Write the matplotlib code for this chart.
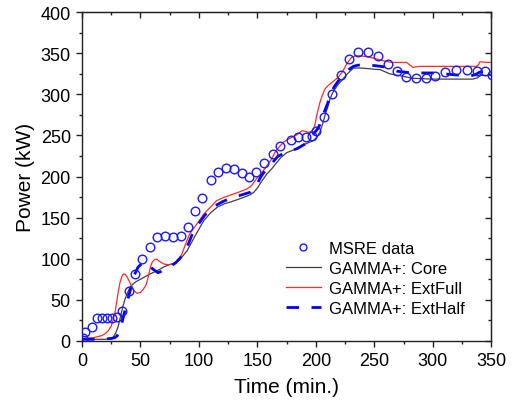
import matplotlib
matplotlib.use('Agg')
import matplotlib.pyplot as plt
from matplotlib.ticker import MultipleLocator

plt.rcParams['font.family'] = ['Liberation Sans', 'DejaVu Sans']

# MSRE measured power (min, kW)
msre_t = [0.5, 3, 8.3, 12.5, 17, 21.5, 26, 30, 34, 40, 45.5, 51.5, 58, 64.5, 71, 78, 85, 90.5,
          97, 102.5, 110.5, 116.5, 123.5, 130, 137, 143, 149, 156, 163.5, 169.2, 178.4, 185,
          191.7, 196.8, 200, 206.7, 213.6, 221.6, 228.5, 236.2, 244.2, 253, 261.3, 268.9, 277,
          285.5, 294, 302, 310.3, 319.7, 328.8, 337.6, 344.4, 350.5]
msre_p = [4, 11, 17, 28, 28, 28, 28, 29, 37, 61, 81, 100, 114, 127, 128, 127, 128, 139,
          158.5, 174, 195.7, 205.8, 210.7, 209, 204, 200, 206, 216.4, 228, 237, 244.7, 247.6,
          247.6, 249.6, 255.7, 272, 301, 323.8, 342.5, 351, 351, 347, 336.8, 328.3, 321.4,
          319.4, 319.4, 321.8, 327.4, 329.8, 329.8, 328.6, 328.6, 323]

# GAMMA+ Core
core_t = [0, 10, 20, 25, 27, 29, 31, 33, 35, 36.8, 38.5, 40, 42, 46, 50, 55, 59, 65, 70, 75,
          80, 83, 86, 90, 93, 96, 100, 104, 110, 116, 122, 127, 133, 139, 144, 147, 150, 153,
          158, 162, 166, 170, 175, 182, 190, 195, 198, 201, 203.4, 205.5, 207.7, 210, 212, 214,
          216, 219, 223, 227, 232, 238, 243, 250, 255, 259, 263, 268, 272, 283, 300, 320, 334,
          338, 341, 346, 351]
core_p = [2, 2, 2, 3, 5, 10, 18, 30, 42, 51, 57, 62, 67, 72, 75, 79, 82, 86, 90, 93,
          95, 98, 103, 110, 118, 126, 136, 146, 156, 163, 167, 169, 172, 175, 178, 181, 186, 193,
          203, 209, 216, 223, 229, 233, 239, 242, 244, 248, 254, 263, 274, 284, 294, 301,
          306, 312, 318.5, 325, 332, 332, 331.5, 330.5, 330, 327.5, 325, 323.5, 322.6, 319.5, 318.5, 318.5, 318.5,
          320, 323, 323, 323]

# GAMMA+ ExtFull
full_t = [0, 10, 17, 20, 22.5, 25, 27, 28.5, 29.6, 31, 32.5, 34, 35.5, 37, 38.5, 41, 44, 47,
          50, 52.5, 55, 57, 58.5, 60, 62, 64, 66, 70, 74, 78, 81, 84, 86, 88, 92, 98, 104,
          110, 115, 121, 127, 134, 141, 145, 149, 153, 158, 162, 165, 168, 172, 176, 179, 184,
          188, 191, 193.4, 196, 198, 199.5, 200.6, 202, 203.4, 205.5, 207.7, 210, 212, 215,
          219, 223, 226.2, 230.5, 234, 237.6, 242, 246, 252, 257.5, 264.7, 270, 277.5, 280,
          283, 286, 289, 300, 320, 337, 339, 340.2, 345, 351]
full_p = [3, 4, 6.5, 9, 12.5, 18, 27, 37, 47, 60, 71, 78, 81.5, 81, 78, 71, 62, 58,
          59, 63, 69, 80, 90, 95.7, 99, 99.5, 97, 93.6, 92.5, 93.6, 96, 101.7, 108, 116, 130, 142, 154,
          163, 170.6, 174.5, 177.5, 181, 184.8, 189, 197, 203, 213, 221, 229.4, 235, 241.6, 245, 247.6, 251,
          255.7, 255, 253.7, 255, 257.8, 265, 274, 282, 290, 299, 306.4, 310, 312.5, 316,
          320.6, 328, 336.8, 345, 347, 346.9, 346, 345, 343, 340.8, 338.8, 338.8, 338.8, 336,
          332.7, 333.5, 334, 334, 334, 334, 336, 339.6, 339, 338.8]

# GAMMA+ ExtHalf
half_t = [0, 10, 20, 25, 28, 30, 33, 36, 38.5, 41, 44, 48, 52, 56, 60, 65, 70, 75, 80, 84,
          87, 91, 94, 99, 105, 112, 121, 128, 135, 144, 149, 153, 158, 163, 167, 172, 178, 184,
          190, 195, 198.5, 201, 203, 205, 207, 210, 212, 214, 216, 220, 225, 228, 232, 236,
          241, 250, 260.7, 266, 270, 276, 282, 302, 324, 334, 337, 340, 345, 351]
half_p = [2, 2, 2.5, 3, 4, 6, 15, 33, 47, 60, 78, 90, 95, 95, 88, 83, 86, 90, 95, 101,
          108, 118, 129, 141, 153, 163, 170, 174, 177, 181, 189, 200, 210, 217, 224, 228, 231, 234,
          239, 245, 253, 257, 262, 270, 278, 289, 298, 305, 310, 318, 325, 330, 334, 335.5,
          335.6, 335, 333, 330, 328, 327, 326, 326, 323, 323, 324.5, 327, 328, 328]

fig = plt.figure(figsize=(5.14, 4.10), dpi=100)
ax = fig.add_axes([0.1595, 0.166, 0.7965, 0.802])

ax.plot(msre_t, msre_p, linestyle='none', marker='o', markersize=6.2,
        markerfacecolor='none', markeredgecolor='#1a1aff', markeredgewidth=1.0,
        label='MSRE data', zorder=4)
ax.plot(core_t, core_p, color='#404040', linewidth=0.9, label='GAMMA+: Core', zorder=2)
ax.plot(full_t, full_p, color='#ff2a2a', linewidth=0.9, label='GAMMA+: ExtFull', zorder=2)
ax.plot(half_t, half_p, color='#0000ff', linewidth=2.0, dashes=(4.5, 4.5),
        label='GAMMA+: ExtHalf', zorder=3)

ax.set_xlim(0, 350)
ax.set_ylim(0, 400)
ax.xaxis.set_major_locator(MultipleLocator(50))
ax.xaxis.set_minor_locator(MultipleLocator(25))
ax.yaxis.set_major_locator(MultipleLocator(50))
ax.yaxis.set_minor_locator(MultipleLocator(25))

ax.tick_params(which='both', direction='out', top=False, right=False, width=1.0, colors='#222222',
               labelcolor='black')
ax.tick_params(which='major', length=4.5, labelsize=13)
ax.tick_params(which='minor', length=2.5)

# inward ticks on top and right, no labels
axt = ax.secondary_xaxis('top')
axt.xaxis.set_major_locator(MultipleLocator(50))
axt.xaxis.set_minor_locator(MultipleLocator(25))
axt.tick_params(which='both', direction='in', labeltop=False, width=1.0, colors='#222222')
axt.tick_params(which='major', length=4.5)
axt.tick_params(which='minor', length=2.5)
axr = ax.secondary_yaxis('right')
axr.yaxis.set_major_locator(MultipleLocator(50))
axr.yaxis.set_minor_locator(MultipleLocator(25))
axr.tick_params(which='both', direction='in', labelright=False, width=1.0, colors='#222222')
axr.tick_params(which='major', length=4.5)
axr.tick_params(which='minor', length=2.5)

for s in ax.spines.values():
    s.set_linewidth(1.0)
    s.set_color('#222222')

ax.set_xlabel('Time (min.)', fontsize=15, labelpad=6)
ax.set_ylabel('Power (kW)', fontsize=15, labelpad=4)

ax.legend(loc='center', bbox_to_anchor=(0.716, 0.19), frameon=False, fontsize=12,
          handlelength=2.1, handletextpad=0.5, labelspacing=0.3, borderpad=0.2,
          markerscale=0.8)

fig.savefig('out.png', dpi=100)
